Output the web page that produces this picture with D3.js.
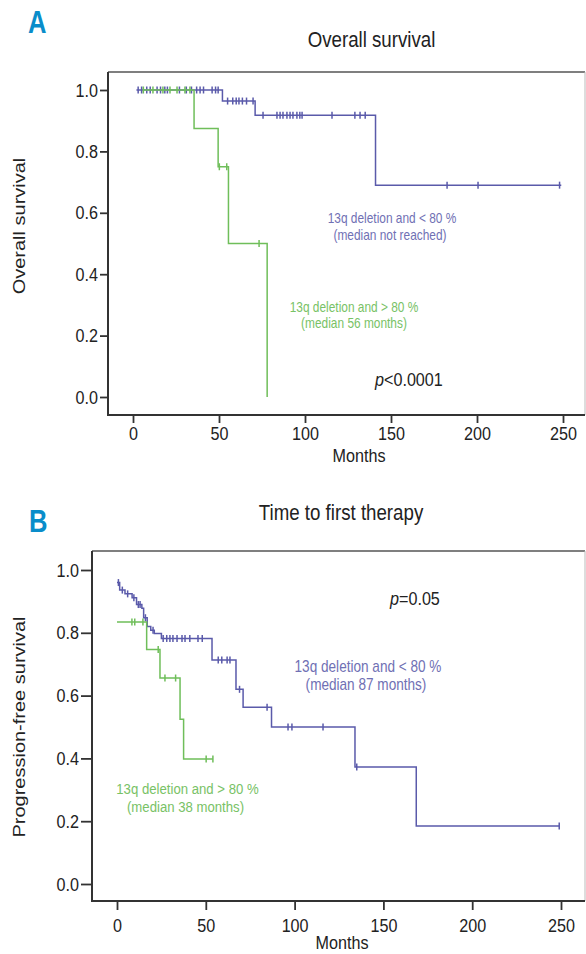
<!DOCTYPE html>
<html><head><meta charset="utf-8">
<script src="https://cdn.jsdelivr.net/npm/d3@7"></script>
<style>body{margin:0;background:#fff}svg{display:block}</style>
</head><body>
<svg id="c" width="586" height="954"></svg>
<script>
// ---------------- data ----------------
const monthTicks = [0, 50, 100, 150, 200, 250];
const survTicks = [0, 0.2, 0.4, 0.6, 0.8, 1.0];

// Panel A: Overall survival
const osBlueStart = [2, 1.0];
const osBlueEvents = [[52, 0.964], [71, 0.918], [141, 0.69]];
const osBlueEnd = 249;
const osBlueCensor = [3, 5, 8, 10, 14, 16, 18.5, 20, 27, 31, 34, 37, 39, 41, 46, 48, 49.5,
  55, 58, 60, 61.6, 63.6, 66, 69.8, 75.6, 83.7, 85.5, 87.2, 89.5, 91.3, 93, 95.3, 97, 98.3,
  115.7, 129, 132, 135, 182.6, 200.6, 248];

const osGreenStart = [6, 1.0];
const osGreenEvents = [[35.5, 0.875], [49.5, 0.75], [55.5, 0.5], [78, 0]];
const osGreenEnd = 78;
const osGreenCensor = [6, 11.6, 17.4, 21.5, 25.6, 30.2, 33.1, 50.2, 54.5, 73.3];

// Panel B: Time to first therapy
const tftBlueStart = [0, 0.96];
const tftBlueEvents = [[1.5, 0.936], [4.5, 0.924], [8.5, 0.912], [11, 0.89], [14, 0.878], [15, 0.848],
  [17, 0.82], [19, 0.808], [21, 0.798], [25, 0.782], [53.5, 0.713], [67, 0.62], [71, 0.563],
  [87, 0.50], [134, 0.373], [168.5, 0.185]];
const tftBlueEnd = 249;
const tftBlueCensor = [0.8, 3, 6, 9.5, 12, 13, 16, 20.3, 26, 28, 29.8, 31.5, 33.8, 36.6, 38.3, 41,
  45.6, 48, 57, 59, 62, 63.6, 69, 84.5, 96.3, 98.5, 116, 135, 249];

const tftGreenStart = [0, 0.834];
const tftGreenEvents = [[16.7, 0.747], [24.2, 0.656], [35.5, 0.525], [37.5, 0.398]];
const tftGreenEnd = 54;
const tftGreenCensor = [8.4, 10, 14.6, 23.2, 27, 33, 50.2, 54];

// ---------------- drawing ----------------
const FONT = '"Liberation Sans", Arial, Helvetica, sans-serif';
const SX = 0.85;
const BLUE = '#5a5aaa', GREEN = '#6fbe5a';
const BLUE_T = '#7070b4', GREEN_T = '#78c266';
const svg = d3.select('#c');

function txt(x, y, s, size, o = {}) {
  const tr = o.rot ? `translate(${x},${y}) rotate(-90) scale(1,${SX})`
                   : `translate(${x},${y}) scale(${o.sx || SX},1)`;
  const t = svg.append('text').attr('transform', tr)
    .attr('font-size', size).attr('font-family', FONT)
    .attr('text-anchor', o.anchor || 'middle')
    .attr('fill', o.fill || '#222');
  if (o.weight) t.attr('font-weight', o.weight);
  if (s !== null) t.text(s);
  return t;
}

function panel(cfg) {
  const x = d3.scaleLinear().domain([0, 250]).range(cfg.xr);
  const y = d3.scaleLinear().domain([0, 1]).range(cfg.yr);

  // frame
  svg.append('line').attr('x1', cfg.x0).attr('x2', cfg.x1).attr('y1', cfg.y0).attr('y2', cfg.y0)
    .attr('stroke', '#555').attr('stroke-width', 1.5);
  svg.append('line').attr('x1', cfg.x1).attr('x2', cfg.x1).attr('y1', cfg.y0).attr('y2', cfg.y1)
    .attr('stroke', '#bbb').attr('stroke-width', 1);
  svg.append('line').attr('x1', cfg.x0).attr('x2', cfg.x0).attr('y1', cfg.y0).attr('y2', cfg.y1 + 1)
    .attr('stroke', '#333').attr('stroke-width', 2);
  svg.append('line').attr('x1', cfg.x0 - 1).attr('x2', cfg.x1).attr('y1', cfg.y1).attr('y2', cfg.y1)
    .attr('stroke', '#333').attr('stroke-width', 2);

  // axes
  const ya = svg.append('g').attr('transform', `translate(${cfg.x0 - 1},0)`)
    .call(d3.axisLeft(y).tickValues(survTicks).tickFormat(d3.format('.1f'))
      .tickSize(cfg.ytick).tickPadding(cfg.ypad));
  const xa = svg.append('g').attr('transform', `translate(0,${cfg.y1 + 1})`)
    .call(d3.axisBottom(x).tickValues(monthTicks).tickFormat(d3.format('d'))
      .tickSize(cfg.xtick).tickPadding(cfg.xpad));
  [ya, xa].forEach(a => {
    a.select('.domain').remove();
    a.selectAll('line').attr('stroke', '#333').attr('stroke-width', 1.8);
    a.selectAll('text').attr('font-family', FONT).attr('font-size', 19).attr('fill', '#222')
      .each(function () {
        const t = d3.select(this);
        const xx = +t.attr('x') || 0;
        t.attr('x', xx / SX).attr('transform', `scale(${SX},1)`);
      });
  });

  const line = d3.line().x(d => x(d[0])).y(d => y(d[1])).curve(d3.curveStepAfter);
  function stepVal(events, start, t) {
    let s = start[1];
    events.forEach(e => { if (e[0] <= t) s = e[1]; });
    return s;
  }
  cfg.series.forEach(se => {
    const pts = [se.start, ...se.events];
    const last = pts[pts.length - 1][1];
    if (se.end > pts[pts.length - 1][0]) pts.push([se.end, last]);
    svg.append('path').attr('d', line(pts)).attr('fill', 'none')
      .attr('stroke', se.color).attr('stroke-width', 1.5);
    svg.append('g').selectAll('line').data(se.censor).join('line')
      .attr('x1', d => x(d)).attr('x2', d => x(d))
      .attr('y1', d => y(stepVal(se.events, se.start, d)) - 3.5)
      .attr('y2', d => y(stepVal(se.events, se.start, d)) + 3.5)
      .attr('stroke', se.color).attr('stroke-width', 1.5);
  });
}

// Panel A
panel({
  x0: 108, y0: 72, x1: 585, y1: 415, xr: [133, 563], yr: [397, 90],
  ytick: 7, ypad: 2, xtick: 7, xpad: 4,
  series: [
    { start: osBlueStart, events: osBlueEvents, end: osBlueEnd, censor: osBlueCensor, color: BLUE },
    { start: osGreenStart, events: osGreenEvents, end: osGreenEnd, censor: osGreenCensor, color: GREEN }
  ]
});
// Panel B
panel({
  x0: 92, y0: 551, x1: 585, y1: 901, xr: [117, 561], yr: [884, 570],
  ytick: 10, ypad: 2, xtick: 8, xpad: 9,
  series: [
    { start: tftBlueStart, events: tftBlueEvents, end: tftBlueEnd, censor: tftBlueCensor, color: BLUE },
    { start: tftGreenStart, events: tftGreenEvents, end: tftGreenEnd, censor: tftGreenCensor, color: GREEN }
  ]
});

// Text: panel letters
txt(28, 33, 'A', 32, { anchor: 'start', weight: 'bold', fill: '#0a8dca', sx: 0.8 });
txt(29, 532, 'B', 32, { anchor: 'start', weight: 'bold', fill: '#0a8dca', sx: 0.8 });

// titles
txt(371.5, 47, 'Overall survival', 22);
txt(341, 520, 'Time to first therapy', 22);

// axis titles
txt(359, 462, 'Months', 19);
txt(342, 949, 'Months', 19);
txt(25, 226, 'Overall survival', 20, { rot: true });
txt(25, 727, 'Progression-free survival', 20, { rot: true });

// annotations A
txt(392, 223, '13q deletion and < 80 %', 14, { fill: BLUE_T });
txt(390, 240, '(median not reached)', 14, { fill: BLUE_T });
txt(354, 312, '13q deletion and > 80 %', 14, { fill: GREEN_T });
txt(354, 328, '(median 56 months)', 14, { fill: GREEN_T });
const pA = txt(375, 386, null, 19, { anchor: 'start' });
pA.append('tspan').attr('font-style', 'italic').text('p');
pA.append('tspan').text('<0.0001');

// annotations B
const pB = txt(390, 605, null, 19, { anchor: 'start' });
pB.append('tspan').attr('font-style', 'italic').text('p');
pB.append('tspan').text('=0.05');
txt(368, 672, '13q deletion and < 80 %', 16, { fill: BLUE_T });
txt(366, 690, '(median 87 months)', 16, { fill: BLUE_T });
txt(187.5, 794, '13q deletion and > 80 %', 15.5, { fill: GREEN_T });
txt(185.5, 812, '(median 38 months)', 15.5, { fill: GREEN_T });
</script>
</body></html>
